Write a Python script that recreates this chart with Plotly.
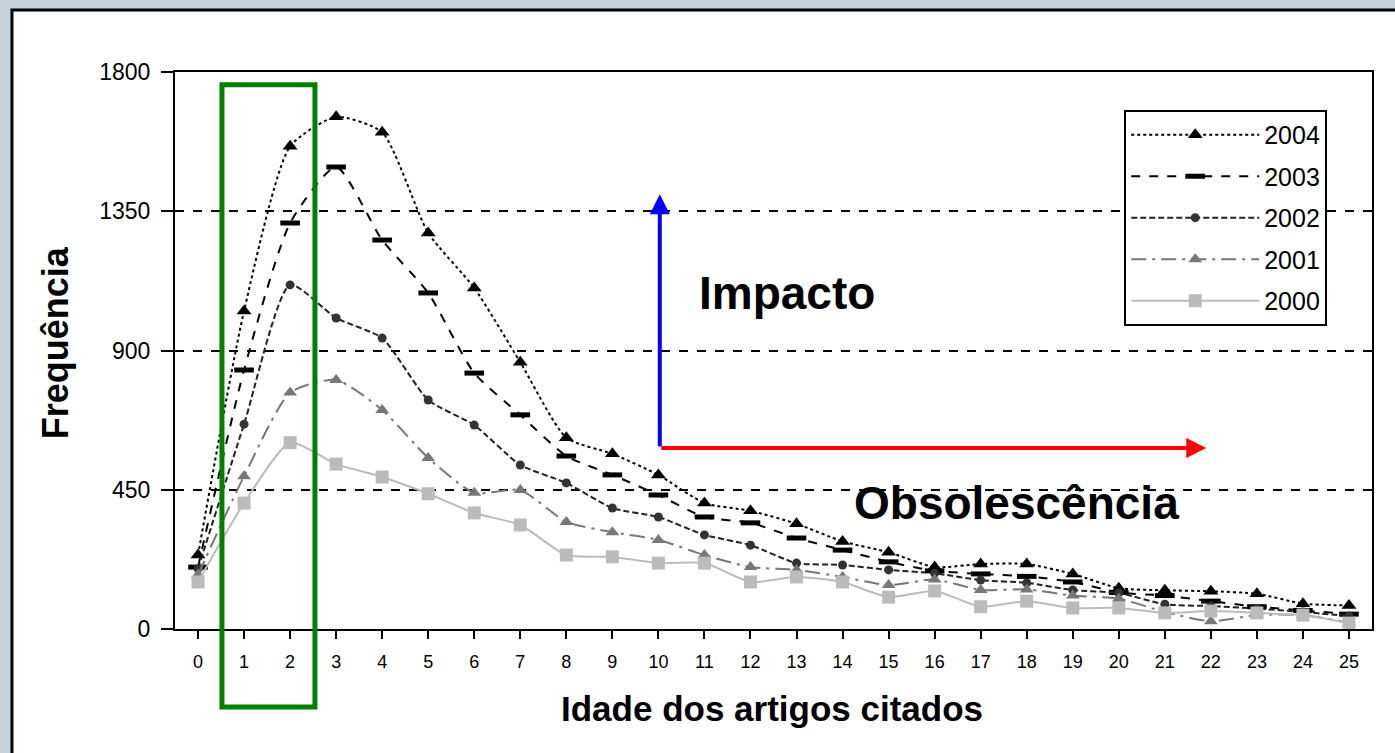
import plotly.graph_objects as go

ages = list(range(26))
tick_labels = [str(a) for a in ages]
y_ticks = [0, 450, 900, 1350, 1800]

s2004 = [239, 1028, 1560, 1655, 1605, 1280, 1102, 862, 618, 566, 498, 407, 382, 340, 283, 248, 200, 210, 210, 178, 132, 125, 122, 114, 82, 76]
s2003 = [200, 837, 1312, 1493, 1257, 1086, 827, 692, 559, 498, 433, 362, 343, 294, 255, 217, 188, 178, 170, 152, 118, 108, 90, 72, 60, 48]
s2002 = [195, 662, 1112, 1005, 940, 740, 659, 530, 472, 391, 362, 304, 271, 213, 207, 191, 180, 158, 149, 126, 116, 80, 74, 66, 55, 42]
s2001 = [175, 494, 764, 805, 708, 553, 440, 449, 346, 313, 288, 239, 200, 191, 168, 142, 160, 126, 128, 108, 98, 55, 25, 45, 45, 20]
s2000 = [152, 407, 602, 533, 491, 437, 375, 336, 239, 233, 213, 213, 152, 168, 152, 103, 123, 72, 90, 68, 68, 52, 58, 52, 45, 19]

series = [
    ("2004", s2004, dict(color="black", width=2, dash="dot"), dict(symbol="triangle-up", size=13, color="black")),
    ("2003", s2003, dict(color="black", width=2, dash="dash"), dict(symbol="line-ew", size=14, color="black", line=dict(color="black", width=5))),
    ("2002", s2002, dict(color="#222222", width=2, dash="6px,3px"), dict(symbol="circle", size=9, color="#333333")),
    ("2001", s2001, dict(color="#777777", width=2, dash="longdashdot"), dict(symbol="triangle-up", size=12, color="#777777")),
    ("2000", s2000, dict(color="#BBBBBB", width=2, dash="solid"), dict(symbol="square", size=13, color="#BBBBBB")),
]

fig = go.Figure()
for i, (name, vals, ln, mk) in enumerate(series):
    fig.add_trace(go.Scatter(
        x=ages, y=vals, name=name, mode="lines+markers",
        line=dict(shape="spline", smoothing=0.6, **ln), marker=mk,
        legendgroup=name,
    ))

reg = "Liberation Sans, Arial, sans-serif"

fig.update_layout(
    width=1395, height=753,
    margin=dict(l=175, r=23, t=72, b=124),
    paper_bgcolor="#C5D0D8",
    plot_bgcolor="white",
    showlegend=True,
    legend=dict(
        x=0.793, y=0.932, xanchor="left", yanchor="top",
        bgcolor="white", bordercolor="black", borderwidth=2,
        font=dict(family=reg, size=25, color="black"),
        tracegroupgap=6, itemwidth=128,
    ),
    xaxis=dict(
        range=[-0.5, 25.5], tickmode="array", tickvals=ages, ticktext=tick_labels,
        showgrid=False, zeroline=False,
        showline=True, linecolor="black", linewidth=2, mirror=True,
        ticks="outside", ticklen=8, tickwidth=2, tickcolor="black",
        tickfont=dict(family=reg, size=18, color="black"),
        ticklabelstandoff=7,
    ),
    yaxis=dict(
        range=[0, 1800], tickmode="array", tickvals=y_ticks,
        ticktext=[str(v) for v in y_ticks],
        showgrid=True, gridcolor="black", gridwidth=1.5, griddash="dash",
        zeroline=False,
        showline=True, linecolor="black", linewidth=2, mirror=True,
        ticks="outside", ticklen=12, tickwidth=2, tickcolor="black",
        tickfont=dict(family=reg, size=23, color="black"),
        ticklabelstandoff=6,
    ),
    shapes=[
        dict(type="rect", xref="paper", yref="paper", x0=-0.1362, x1=1.2, y0=-0.5, y1=1.1113,
             fillcolor="white", line=dict(color="black", width=3), layer="below"),
        dict(type="rect", xref="x", yref="paper", x0=0.52, x1=2.54, y0=-0.14, y1=0.977,
             line=dict(color="#008000", width=5), fillcolor="rgba(0,0,0,0)", layer="above"),
    ],
    annotations=[
        dict(x=10.03, y=1405, ax=10.03, ay=585, xref="x", yref="y", axref="x", ayref="y",
             text="", showarrow=True, arrowhead=2, arrowsize=1, arrowwidth=4, arrowcolor="blue"),
        dict(x=21.9, y=585, ax=10.03, ay=585, xref="x", yref="y", axref="x", ayref="y",
             text="", showarrow=True, arrowhead=2, arrowsize=1, arrowwidth=4, arrowcolor="red"),
        dict(x=12.8, y=1086, xref="x", yref="y", text="<b>Impacto</b>", showarrow=False,
             font=dict(family=reg, size=46, color="black")),
        dict(x=17.77, y=407, xref="x", yref="y", text="<b>Obsolescência</b>", showarrow=False,
             font=dict(family=reg, size=46, color="black")),
        dict(x=0.4987, y=-0.181, xref="paper", yref="paper", text="<b>Idade dos artigos citados</b>",
             showarrow=False, font=dict(family=reg, size=35, color="black")),
        dict(x=-0.118, y=0.5135, xref="paper", yref="paper", text="<b>Frequência</b>", textangle=-90,
             showarrow=False, font=dict(family=reg, size=36, color="black")),
    ],
)

fig.write_html(
    "out.html",
    config={"displayModeBar": False},
    post_script="document.body.style.margin='0';document.body.style.background='#C5D0D8';document.body.style.overflow='hidden';",
)
